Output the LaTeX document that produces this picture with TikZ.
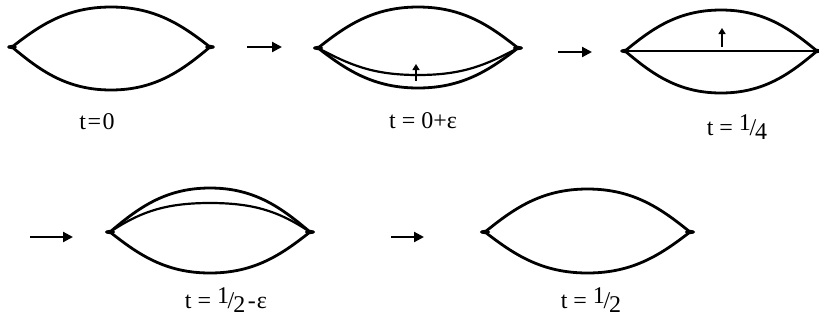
\documentclass[tikz,border=0pt]{standalone}
\usepackage{fontspec}
\setmainfont{Liberation Serif}
\usetikzlibrary{arrows.meta}
\newcommand\myfrac[2]{\raisebox{.45ex}{#1}\kern-.06em/\kern-.04em\raisebox{-.4ex}{#2}}
\begin{document}
\begin{tikzpicture}[x=1pt,y=-1pt,
  curve/.style={line width=2.8pt, line cap=round, line join=round},
  innercurve/.style={line width=2.2pt, line cap=round},
  flow/.style={line width=2.2pt, -{Triangle[length=10pt,width=10pt]}},
  push/.style={line width=1.8pt, -{Triangle[length=6pt,width=7pt]}},
  lbl/.style={font=\fontsize{24}{27}\selectfont, inner sep=0pt},
  pics/lens/.style n args={2}{code={
    \coordinate (-l) at (-100,0);
    \coordinate (-r) at (100,0);
    \draw[curve] (-l) .. controls +(28,-#1*0.54) and +(-45,0) .. (0,-#1)
                      .. controls +(45,0) and +(-28,-#1*0.54) .. (-r);
    \draw[curve] (-l) .. controls +(28,#2*0.54) and +(-45,0) .. (0,#2)
                      .. controls +(45,0) and +(-28,#2*0.54) .. (-r);
    \fill (-l) ellipse (5 and 2.2);
    \fill (-r) ellipse (5 and 2.2);
  }}]
\useasboundingbox (0,0) rectangle (819,325);

% lenses
\pic[xscale=0.99] (A) at (111,47) {lens={40}{43}};
\pic (B) at (418,48) {lens={41}{40}};
\pic[xscale=0.96] (C) at (721,51) {lens={41}{42}};
\pic (D) at (210,232) {lens={44}{41}};
\pic[xscale=1.025] (E) at (587.5,232) {lens={43}{41}};

% inner curves
\coordinate (Bin) at (418,75);
\draw[innercurve] (B-l) .. controls +(32,17) and +(-45,0) .. (Bin)
                        .. controls +(45,0) and +(-32,17) .. (B-r);
\draw[innercurve] (C-l) -- (C-r);
\coordinate (Din) at (210,203);
\draw[innercurve] (D-l) .. controls +(30,-20) and +(-45,0) .. (Din)
                        .. controls +(45,0) and +(-30,-20) .. (D-r);

% small push arrows
\coordinate (pb1) at (416,81); \coordinate (pb2) at (416,64);
\draw[push] (pb1) -- (pb2);
\coordinate (pc1) at (722,47); \coordinate (pc2) at (722,28);
\draw[push] (pc1) -- (pc2);

% flow arrows
\coordinate (f1s) at (247,47);  \coordinate (f1e) at (282,47);
\coordinate (f2s) at (558,52);  \coordinate (f2e) at (592,52);
\coordinate (f3s) at (30,237);  \coordinate (f3e) at (73,237);
\coordinate (f4s) at (391,237); \coordinate (f4e) at (424,237);
\draw[flow] (f1s) -- (f1e);
\draw[flow] (f2s) -- (f2e);
\draw[flow] (f3s) -- (f3e);
\draw[flow] (f4s) -- (f4e);

% labels
\node[lbl] (tA) at (97,122) {t\kern.06em=\kern.06em0};
\node[lbl] (tB) at (423,121) {t = 0+ε};
\node[lbl] (tC) at (737,127) {t = \myfrac{1}{4}};
\node[lbl] (tD) at (226,300) {t = \myfrac{1}{2}\kern.1em-\kern.05emε};
\node[lbl] (tE) at (591,300) {t = \myfrac{1}{2}};
\end{tikzpicture}
\end{document}
